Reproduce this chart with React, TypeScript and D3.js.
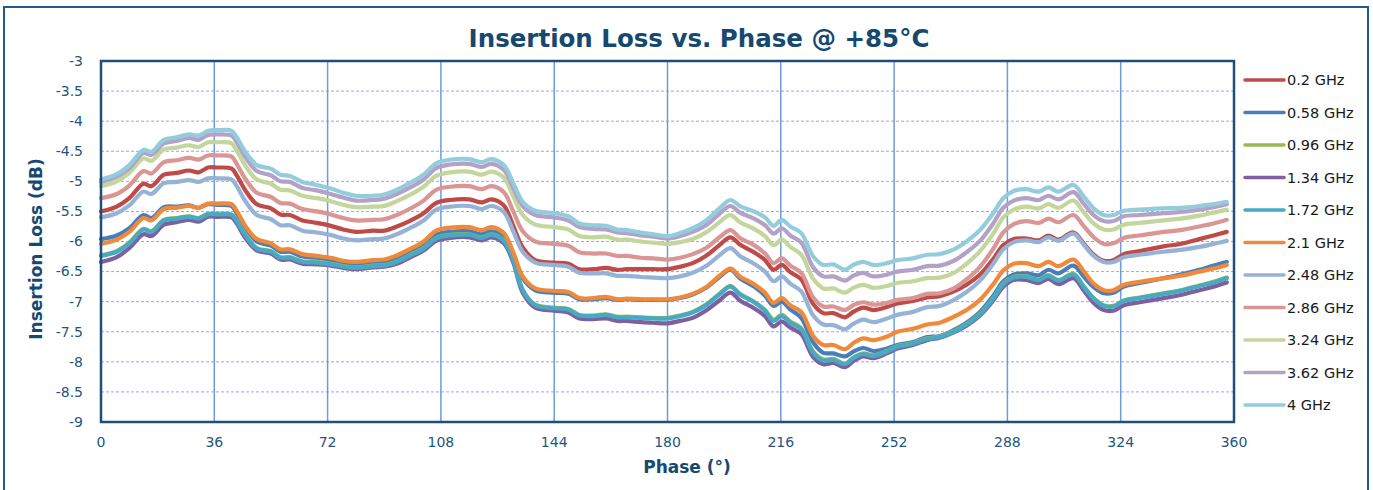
import React from "react";
import * as d3 from "d3";

const phase = [0, 5, 9, 13.5, 16, 20, 24, 28, 31, 34, 37, 41.5, 43, 46, 49.5, 54, 57, 60, 64, 68.5, 73, 77, 81, 86.5, 90, 94, 98, 102.5, 106.5, 111, 117, 121, 124, 128, 131, 134, 138, 144, 148.5, 152, 156.5, 160.5, 164, 167, 171.5, 175.5, 180, 184, 188, 192.5, 196.5, 200, 203, 207.5, 211, 213.7, 216.3, 219, 222.5, 226.3, 229.5, 232.7, 236.4, 239, 242.2, 245.4, 249.7, 253, 258, 262.5, 266.5, 271, 275, 279.3, 283.5, 286.7, 290, 294, 298, 301, 304.2, 309, 312.2, 315.4, 318.6, 321.7, 325, 330, 337.6, 343, 349, 353.5, 357.7];

const s0_2 = [-5.50, -5.42, -5.28, -5.04, -5.08, -4.89, -4.86, -4.82, -4.85, -4.77, -4.77, -4.79, -4.89, -5.16, -5.38, -5.45, -5.55, -5.56, -5.65, -5.69, -5.74, -5.80, -5.84, -5.82, -5.82, -5.75, -5.66, -5.53, -5.36, -5.31, -5.30, -5.35, -5.30, -5.40, -5.74, -6.10, -6.31, -6.35, -6.37, -6.46, -6.46, -6.44, -6.47, -6.46, -6.46, -6.46, -6.46, -6.42, -6.36, -6.23, -6.06, -5.93, -6.05, -6.18, -6.31, -6.47, -6.39, -6.51, -6.63, -7.04, -7.19, -7.19, -7.26, -7.17, -7.10, -7.14, -7.09, -7.03, -6.99, -6.93, -6.91, -6.83, -6.72, -6.55, -6.29, -6.06, -5.96, -5.95, -5.98, -5.90, -5.97, -5.85, -6.03, -6.22, -6.32, -6.31, -6.21, -6.16, -6.08, -6.04, -5.96, -5.90, -5.84];
const s0_58 = [-5.96, -5.90, -5.78, -5.56, -5.61, -5.43, -5.42, -5.40, -5.44, -5.38, -5.39, -5.41, -5.52, -5.78, -6.00, -6.07, -6.17, -6.17, -6.25, -6.27, -6.31, -6.36, -6.39, -6.36, -6.35, -6.29, -6.19, -6.07, -5.89, -5.84, -5.83, -5.88, -5.83, -5.93, -6.26, -6.61, -6.81, -6.85, -6.87, -6.96, -6.96, -6.94, -6.97, -6.96, -6.97, -6.97, -6.97, -6.94, -6.88, -6.76, -6.59, -6.47, -6.61, -6.75, -6.90, -7.07, -7.00, -7.13, -7.27, -7.68, -7.85, -7.86, -7.91, -7.83, -7.77, -7.82, -7.78, -7.72, -7.67, -7.59, -7.57, -7.47, -7.35, -7.17, -6.90, -6.66, -6.55, -6.53, -6.56, -6.47, -6.53, -6.40, -6.58, -6.76, -6.86, -6.85, -6.75, -6.69, -6.61, -6.55, -6.47, -6.40, -6.34];
const s0_96 = [-6.23, -6.16, -6.02, -5.79, -5.83, -5.64, -5.61, -5.58, -5.61, -5.54, -5.54, -5.55, -5.64, -5.90, -6.11, -6.16, -6.26, -6.26, -6.33, -6.34, -6.37, -6.41, -6.43, -6.40, -6.39, -6.33, -6.23, -6.11, -5.94, -5.89, -5.88, -5.93, -5.88, -5.98, -6.30, -6.80, -7.05, -7.10, -7.12, -7.22, -7.23, -7.21, -7.25, -7.25, -7.26, -7.27, -7.27, -7.23, -7.17, -7.04, -6.87, -6.74, -6.87, -7.00, -7.14, -7.30, -7.22, -7.33, -7.44, -7.83, -7.96, -7.95, -8.03, -7.93, -7.86, -7.89, -7.82, -7.74, -7.69, -7.61, -7.58, -7.49, -7.37, -7.20, -6.94, -6.70, -6.59, -6.58, -6.63, -6.56, -6.64, -6.54, -6.74, -6.94, -7.06, -7.07, -6.98, -6.93, -6.86, -6.81, -6.73, -6.67, -6.60];
const s1_34 = [-6.34, -6.26, -6.11, -5.88, -5.91, -5.72, -5.68, -5.64, -5.67, -5.59, -5.59, -5.60, -5.69, -5.95, -6.15, -6.20, -6.30, -6.30, -6.37, -6.38, -6.40, -6.44, -6.46, -6.43, -6.42, -6.37, -6.27, -6.15, -5.99, -5.94, -5.93, -5.98, -5.93, -6.03, -6.35, -6.85, -7.10, -7.15, -7.18, -7.28, -7.29, -7.28, -7.32, -7.32, -7.34, -7.35, -7.36, -7.32, -7.27, -7.14, -6.98, -6.85, -6.98, -7.11, -7.24, -7.41, -7.33, -7.43, -7.54, -7.92, -8.04, -8.02, -8.09, -7.99, -7.91, -7.94, -7.86, -7.78, -7.72, -7.64, -7.60, -7.51, -7.40, -7.23, -6.98, -6.75, -6.64, -6.64, -6.69, -6.62, -6.71, -6.61, -6.81, -7.02, -7.14, -7.15, -7.06, -7.01, -6.94, -6.89, -6.81, -6.75, -6.68];
const s1_72 = [-6.24, -6.17, -6.03, -5.80, -5.84, -5.65, -5.62, -5.59, -5.62, -5.55, -5.55, -5.56, -5.65, -5.91, -6.12, -6.17, -6.27, -6.27, -6.34, -6.35, -6.38, -6.42, -6.44, -6.41, -6.40, -6.34, -6.24, -6.12, -5.95, -5.90, -5.89, -5.94, -5.89, -5.99, -6.31, -6.81, -7.06, -7.11, -7.13, -7.23, -7.24, -7.22, -7.26, -7.26, -7.27, -7.28, -7.28, -7.24, -7.18, -7.05, -6.88, -6.75, -6.88, -7.01, -7.15, -7.32, -7.24, -7.35, -7.46, -7.85, -7.98, -7.97, -8.04, -7.94, -7.87, -7.90, -7.83, -7.75, -7.70, -7.62, -7.59, -7.50, -7.38, -7.21, -6.95, -6.71, -6.60, -6.59, -6.64, -6.57, -6.65, -6.55, -6.75, -6.95, -7.07, -7.08, -6.99, -6.94, -6.87, -6.82, -6.74, -6.68, -6.61];
const s2_1 = [-6.04, -5.97, -5.84, -5.61, -5.65, -5.46, -5.44, -5.41, -5.44, -5.37, -5.37, -5.38, -5.48, -5.75, -5.96, -6.03, -6.13, -6.13, -6.21, -6.24, -6.27, -6.32, -6.34, -6.31, -6.30, -6.23, -6.13, -6.00, -5.82, -5.77, -5.76, -5.81, -5.76, -5.86, -6.18, -6.58, -6.78, -6.82, -6.84, -6.94, -6.94, -6.92, -6.96, -6.95, -6.96, -6.96, -6.96, -6.93, -6.87, -6.75, -6.57, -6.45, -6.58, -6.71, -6.85, -7.02, -6.94, -7.06, -7.17, -7.57, -7.72, -7.72, -7.79, -7.69, -7.61, -7.64, -7.58, -7.50, -7.45, -7.38, -7.35, -7.25, -7.14, -6.97, -6.71, -6.48, -6.37, -6.36, -6.41, -6.34, -6.41, -6.30, -6.49, -6.70, -6.81, -6.81, -6.72, -6.67, -6.61, -6.57, -6.50, -6.45, -6.39];
const s2_48 = [-5.60, -5.53, -5.40, -5.17, -5.21, -5.03, -5.01, -4.98, -5.01, -4.95, -4.95, -4.97, -5.07, -5.34, -5.56, -5.63, -5.73, -5.73, -5.82, -5.85, -5.89, -5.95, -5.98, -5.96, -5.95, -5.88, -5.78, -5.65, -5.47, -5.42, -5.41, -5.46, -5.41, -5.51, -5.83, -6.17, -6.35, -6.39, -6.42, -6.52, -6.53, -6.53, -6.57, -6.57, -6.59, -6.60, -6.61, -6.58, -6.52, -6.40, -6.23, -6.11, -6.24, -6.37, -6.50, -6.66, -6.58, -6.70, -6.83, -7.23, -7.38, -7.39, -7.46, -7.37, -7.30, -7.34, -7.28, -7.22, -7.17, -7.09, -7.07, -6.97, -6.84, -6.65, -6.37, -6.13, -6.01, -5.98, -6.01, -5.93, -5.99, -5.87, -6.05, -6.24, -6.34, -6.34, -6.26, -6.22, -6.17, -6.14, -6.09, -6.04, -5.99];
const s2_86 = [-5.28, -5.21, -5.07, -4.83, -4.87, -4.68, -4.65, -4.61, -4.64, -4.57, -4.57, -4.59, -4.70, -4.97, -5.19, -5.26, -5.36, -5.37, -5.46, -5.50, -5.55, -5.61, -5.65, -5.64, -5.63, -5.56, -5.46, -5.32, -5.14, -5.09, -5.08, -5.13, -5.08, -5.18, -5.50, -5.83, -6.00, -6.04, -6.07, -6.18, -6.20, -6.20, -6.24, -6.24, -6.27, -6.28, -6.30, -6.27, -6.21, -6.10, -5.93, -5.81, -5.94, -6.06, -6.20, -6.36, -6.28, -6.40, -6.52, -6.93, -7.08, -7.08, -7.14, -7.06, -7.01, -7.05, -7.02, -6.97, -6.94, -6.87, -6.86, -6.78, -6.63, -6.42, -6.12, -5.85, -5.71, -5.66, -5.69, -5.62, -5.68, -5.56, -5.74, -5.93, -6.04, -6.03, -5.94, -5.90, -5.84, -5.81, -5.75, -5.70, -5.64];
const s3_24 = [-5.08, -5.00, -4.86, -4.62, -4.66, -4.47, -4.44, -4.40, -4.43, -4.35, -4.35, -4.37, -4.48, -4.75, -4.97, -5.04, -5.14, -5.15, -5.24, -5.28, -5.33, -5.39, -5.43, -5.42, -5.41, -5.33, -5.23, -5.09, -4.91, -4.85, -4.84, -4.89, -4.84, -4.94, -5.25, -5.56, -5.72, -5.76, -5.80, -5.91, -5.93, -5.92, -5.97, -5.97, -6.00, -6.02, -6.04, -6.01, -5.96, -5.84, -5.68, -5.56, -5.68, -5.79, -5.91, -6.06, -5.97, -6.09, -6.22, -6.62, -6.78, -6.78, -6.85, -6.77, -6.72, -6.77, -6.74, -6.69, -6.66, -6.61, -6.60, -6.52, -6.37, -6.16, -5.87, -5.60, -5.47, -5.42, -5.45, -5.38, -5.44, -5.32, -5.51, -5.70, -5.80, -5.80, -5.72, -5.69, -5.65, -5.62, -5.57, -5.52, -5.47];
const s3_62 = [-5.01, -4.92, -4.78, -4.53, -4.56, -4.37, -4.33, -4.28, -4.31, -4.23, -4.22, -4.24, -4.34, -4.61, -4.83, -4.90, -5.00, -5.01, -5.11, -5.15, -5.21, -5.27, -5.32, -5.31, -5.29, -5.21, -5.11, -4.97, -4.78, -4.72, -4.71, -4.76, -4.71, -4.81, -5.11, -5.41, -5.56, -5.60, -5.65, -5.76, -5.79, -5.80, -5.85, -5.86, -5.90, -5.92, -5.95, -5.91, -5.84, -5.72, -5.54, -5.41, -5.52, -5.62, -5.73, -5.87, -5.78, -5.90, -6.02, -6.43, -6.58, -6.58, -6.65, -6.57, -6.52, -6.58, -6.55, -6.50, -6.47, -6.41, -6.40, -6.32, -6.18, -5.99, -5.70, -5.44, -5.32, -5.28, -5.31, -5.24, -5.30, -5.18, -5.37, -5.56, -5.66, -5.66, -5.58, -5.56, -5.53, -5.51, -5.47, -5.43, -5.38];
const s4 = [-4.97, -4.88, -4.73, -4.48, -4.51, -4.31, -4.27, -4.22, -4.24, -4.16, -4.15, -4.16, -4.26, -4.52, -4.73, -4.79, -4.89, -4.91, -5.01, -5.06, -5.12, -5.19, -5.24, -5.24, -5.22, -5.14, -5.03, -4.89, -4.70, -4.64, -4.63, -4.68, -4.63, -4.73, -5.03, -5.34, -5.49, -5.53, -5.58, -5.70, -5.73, -5.74, -5.80, -5.81, -5.85, -5.88, -5.91, -5.86, -5.78, -5.64, -5.45, -5.31, -5.41, -5.50, -5.60, -5.74, -5.64, -5.75, -5.86, -6.25, -6.39, -6.38, -6.47, -6.39, -6.34, -6.39, -6.36, -6.31, -6.28, -6.22, -6.21, -6.13, -6.00, -5.81, -5.53, -5.28, -5.16, -5.13, -5.17, -5.10, -5.17, -5.06, -5.25, -5.45, -5.56, -5.56, -5.49, -5.47, -5.45, -5.44, -5.41, -5.38, -5.34];

const seriesNames = ["0.2 GHz", "0.58 GHz", "0.96 GHz", "1.34 GHz", "1.72 GHz", "2.1 GHz", "2.48 GHz", "2.86 GHz", "3.24 GHz", "3.62 GHz", "4 GHz"];
const seriesValues = [s0_2, s0_58, s0_96, s1_34, s1_72, s2_1, s2_48, s2_86, s3_24, s3_62, s4];
const seriesColors = ["#BE4B48", "#4A7EBB", "#98B954", "#7D60A0", "#46AAC5", "#F08A3A", "#95B3D7", "#D99694", "#C3D69B", "#B3A2C7", "#93CDDD"];

const xTicks = [0, 36, 72, 108, 144, 180, 216, 252, 288, 324, 360];
const yTicks = [-3, -3.5, -4, -4.5, -5, -5.5, -6, -6.5, -7, -7.5, -8, -8.5, -9];

const W = 1373;
const H = 490;
const plot = { left: 101, top: 61, right: 1234, bottom: 422 };
const axisColor = "#1F4E79";
const textBlue = "#1F5580";
const font = "'DejaVu Sans', Verdana, sans-serif";

export default function App() {
  const x = d3.scaleLinear().domain([0, 360]).range([plot.left, plot.right]);
  const y = d3.scaleLinear().domain([-9, -3]).range([plot.bottom, plot.top]);
  const line = d3
    .line<[number, number]>()
    .x((d) => x(d[0]))
    .y((d) => y(d[1]))
    .curve(d3.curveCatmullRom.alpha(0.5));

  const legendX = 1245;
  const legendY0 = 80;
  const legendStep = 32.5;

  return (
    <svg
      width={W}
      height={H}
      style={{ position: "absolute", left: 0, top: 0, background: "#fff" }}
    >
      <rect x={0} y={0} width={W} height={H} fill="#fff" />
      <rect x={4} y={7} width={1364} height={500} fill="#fff" stroke="#1F5C8B" strokeWidth={2} />
      <text
        x={699}
        y={47}
        textAnchor="middle"
        fontFamily={font}
        fontWeight="bold"
        fontSize={24.5}
        fill="#15496F"
      >
        Insertion Loss vs. Phase @ +85°C
      </text>

      {yTicks
        .filter((t) => t > -9 && t < -3)
        .map((t) => (
          <line
            key={"h" + t}
            x1={plot.left}
            x2={plot.right}
            y1={y(t)}
            y2={y(t)}
            stroke="#A0A0F5"
            strokeWidth={1}
            strokeDasharray="3,2"
          />
        ))}
      {xTicks
        .filter((t) => t > 0 && t < 360)
        .map((t) => (
          <line
            key={"v" + t}
            x1={x(t)}
            x2={x(t)}
            y1={plot.top}
            y2={plot.bottom}
            stroke="#6F9BDD"
            strokeWidth={1.5}
          />
        ))}

      {seriesValues.map((vals, i) => (
        <path
          key={seriesNames[i]}
          d={line(phase.map((p, j) => [p, vals[j]] as [number, number])) || ""}
          fill="none"
          stroke={seriesColors[i]}
          strokeWidth={4.2}
          strokeLinejoin="round"
          strokeLinecap="round"
        />
      ))}

      <rect
        x={plot.left}
        y={plot.top}
        width={plot.right - plot.left}
        height={plot.bottom - plot.top}
        fill="none"
        stroke={axisColor}
        strokeWidth={2.5}
      />

      {yTicks.map((t) => (
        <text
          key={"yt" + t}
          x={83}
          y={y(t)}
          dy="0.35em"
          textAnchor="end"
          fontFamily={font}
          fontSize={14}
          fill={textBlue}
        >
          {String(t)}
        </text>
      ))}
      {xTicks.map((t) => (
        <text
          key={"xt" + t}
          x={x(t)}
          y={442}
          dy="0.35em"
          textAnchor="middle"
          fontFamily={font}
          fontSize={14}
          fill={textBlue}
        >
          {String(t)}
        </text>
      ))}

      <text
        x={687}
        y={467}
        dy="0.35em"
        textAnchor="middle"
        fontFamily={font}
        fontWeight="bold"
        fontSize={17}
        fill="#15496F"
      >
        Phase (°)
      </text>
      <text
        transform="translate(36,249) rotate(-90)"
        dy="0.35em"
        textAnchor="middle"
        fontFamily={font}
        fontWeight="bold"
        fontSize={17}
        fill="#15496F"
      >
        Insertion Loss (dB)
      </text>

      {seriesNames.map((n, i) => {
        const ly = legendY0 + i * legendStep;
        return (
          <g key={"lg" + n}>
            <line
              x1={legendX}
              x2={legendX + 39}
              y1={ly}
              y2={ly}
              stroke={seriesColors[i]}
              strokeWidth={3.5}
              strokeLinecap="round"
            />
            <text
              x={legendX + 42}
              y={ly}
              dy="0.35em"
              fontFamily={font}
              fontSize={14.5}
              fill="#1a1a1a"
            >
              {n}
            </text>
          </g>
        );
      })}
    </svg>
  );
}
